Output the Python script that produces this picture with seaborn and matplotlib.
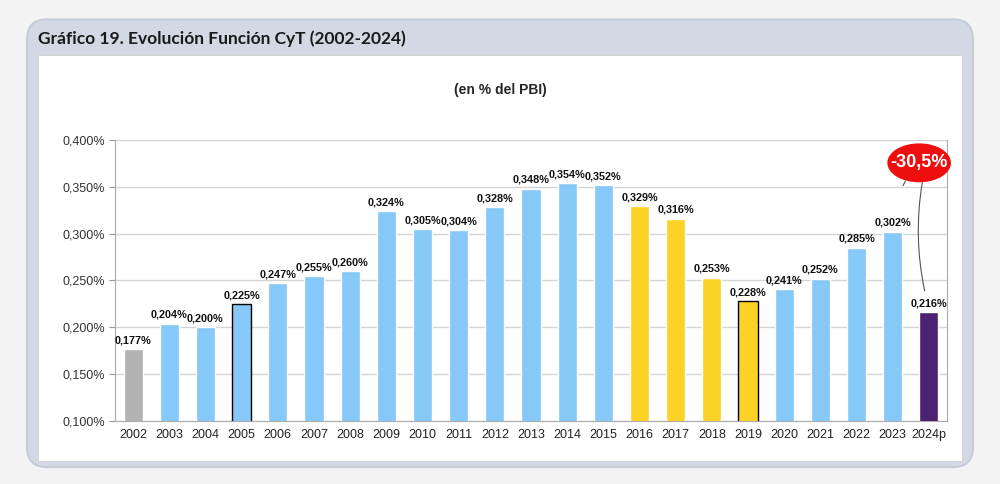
import matplotlib
matplotlib.use("Agg")
import matplotlib.pyplot as plt
import matplotlib.patches as mpatches
from matplotlib.ticker import FixedLocator
import seaborn as sns
import pandas as pd

# Daten
anios = ["2002", "2003", "2004", "2005", "2006", "2007", "2008", "2009", "2010", "2011", "2012",
         "2013", "2014", "2015", "2016", "2017", "2018", "2019", "2020", "2021", "2022", "2023", "2024p"]
valores = [0.177, 0.204, 0.200, 0.225, 0.247, 0.255, 0.260, 0.324, 0.305, 0.304, 0.328,
           0.348, 0.354, 0.352, 0.329, 0.316, 0.253, 0.228, 0.241, 0.252, 0.285, 0.302, 0.216]
grupos = ["gris"] + ["azul"] * 13 + ["amarillo"] * 4 + ["azul"] * 4 + ["violeta"]
borde_negro = ["2005", "2019"]
variacion = "-30,5%"

colores = {"gris": "#b3b3b3", "azul": "#86c8f7", "amarillo": "#fdd227", "violeta": "#4b2171"}

df = pd.DataFrame({"anio": anios, "valor": valores, "grupo": grupos})

sns.set_style("white")
plt.rcParams["font.family"] = ["Liberation Sans", "DejaVu Sans"]

fig = plt.figure(figsize=(10, 4.84), dpi=100)
fig.patch.set_facecolor("#f3f3f3")

# Rahmen / Panel
panel = mpatches.FancyBboxPatch((0.027, 0.035), 0.946, 0.925, boxstyle="round,pad=0,rounding_size=0.02",
                                transform=fig.transFigure, facecolor="#d3d8e4", edgecolor="#c6ccd9",
                                linewidth=1.5, zorder=-2, mutation_aspect=2.07)
fig.patches.append(panel)
inner = mpatches.Rectangle((0.038, 0.048), 0.924, 0.838, transform=fig.transFigure,
                           facecolor="white", edgecolor="#d0d0d0", linewidth=0.6, zorder=-1)
fig.patches.append(inner)

fig.text(0.038, 0.921, "Gráfico 19. Evolución Función CyT (2002-2024)", fontsize=12.5,
         fontweight="bold", family=["Lato", "DejaVu Sans"], va="center", color="#1a1a1a")
fig.text(0.5, 0.814, "(en % del PBI)", fontsize=10, fontweight="bold", ha="center", va="center")

ax = fig.add_axes([0.115, 0.13, 0.832, 0.581])
ax.set_zorder(2)
ax.patch.set_alpha(0)
sns.barplot(data=df, x="anio", y="valor", hue="grupo", palette=colores, width=0.53,
            saturation=1, dodge=False, legend=False, ax=ax, zorder=3)

# Balken mit schwarzem Rand
for patch in ax.patches:
    idx = int(round(patch.get_x() + patch.get_width() / 2))
    if 0 <= idx < len(anios) and anios[idx] in borde_negro:
        patch.set_edgecolor("black")
        patch.set_linewidth(1.0)

for i, v in enumerate(valores):
    ax.text(i, v + 0.004, f"{v:.3f}%".replace(".", ","), ha="center", va="bottom",
            fontsize=7.8, fontweight="bold", color="#111111", zorder=5)

ax.set_ylim(0.1, 0.4)
ax.set_xlim(-0.5, len(anios) - 0.5)
ax.set_yticks([0.1, 0.15, 0.2, 0.25, 0.3, 0.35, 0.4])
ax.set_yticklabels([f"{t:.3f}%".replace(".", ",") for t in ax.get_yticks()], fontsize=9, color="#333333")
ax.set_xticks(range(len(anios)))
ax.set_xticklabels(anios, fontsize=9, color="#222222")
ax.xaxis.set_minor_locator(FixedLocator([i - 0.5 for i in range(len(anios) + 1)]))
ax.tick_params(axis="x", which="major", length=0, pad=6)
ax.tick_params(axis="x", which="minor", length=4, color="#999999", direction="out")
ax.tick_params(axis="y", length=4, color="#999999", pad=3, left=True)
ax.yaxis.grid(True, color="#d4d4d4", linewidth=1.0, zorder=0)
ax.set_axisbelow(True)
ax.set_xlabel("")
ax.set_ylabel("")
for s in ["left", "bottom", "right"]:
    ax.spines[s].set_color("#aaaaaa")
    ax.spines[s].set_linewidth(0.8)
ax.spines["top"].set_visible(False)

# Variation markieren
n = len(anios) - 1
elx, ely = n - 0.27, 0.3755
ax.annotate("", xy=(n - 0.1, valores[n] + 0.02), xytext=(elx + 0.1, ely - 0.018),
            arrowprops=dict(arrowstyle="-", color="#555555", lw=0.8,
                            connectionstyle="arc3,rad=0.1"), zorder=4)
ax.annotate("", xy=(n - 0.75, ely - 0.027), xytext=(elx - 0.35, ely - 0.017),
            arrowprops=dict(arrowstyle="-", color="#555555", lw=0.8), zorder=4)
ell = mpatches.Ellipse((elx, ely), 1.72, 0.04, facecolor="#ee0e0e", edgecolor="#ee0e0e",
                       zorder=6, clip_on=False)
ax.add_patch(ell)
ax.text(elx, ely, variacion, ha="center", va="center", color="white", fontsize=13,
        fontweight="bold", zorder=7)

fig.savefig("out.png", dpi=100, facecolor=fig.get_facecolor())
